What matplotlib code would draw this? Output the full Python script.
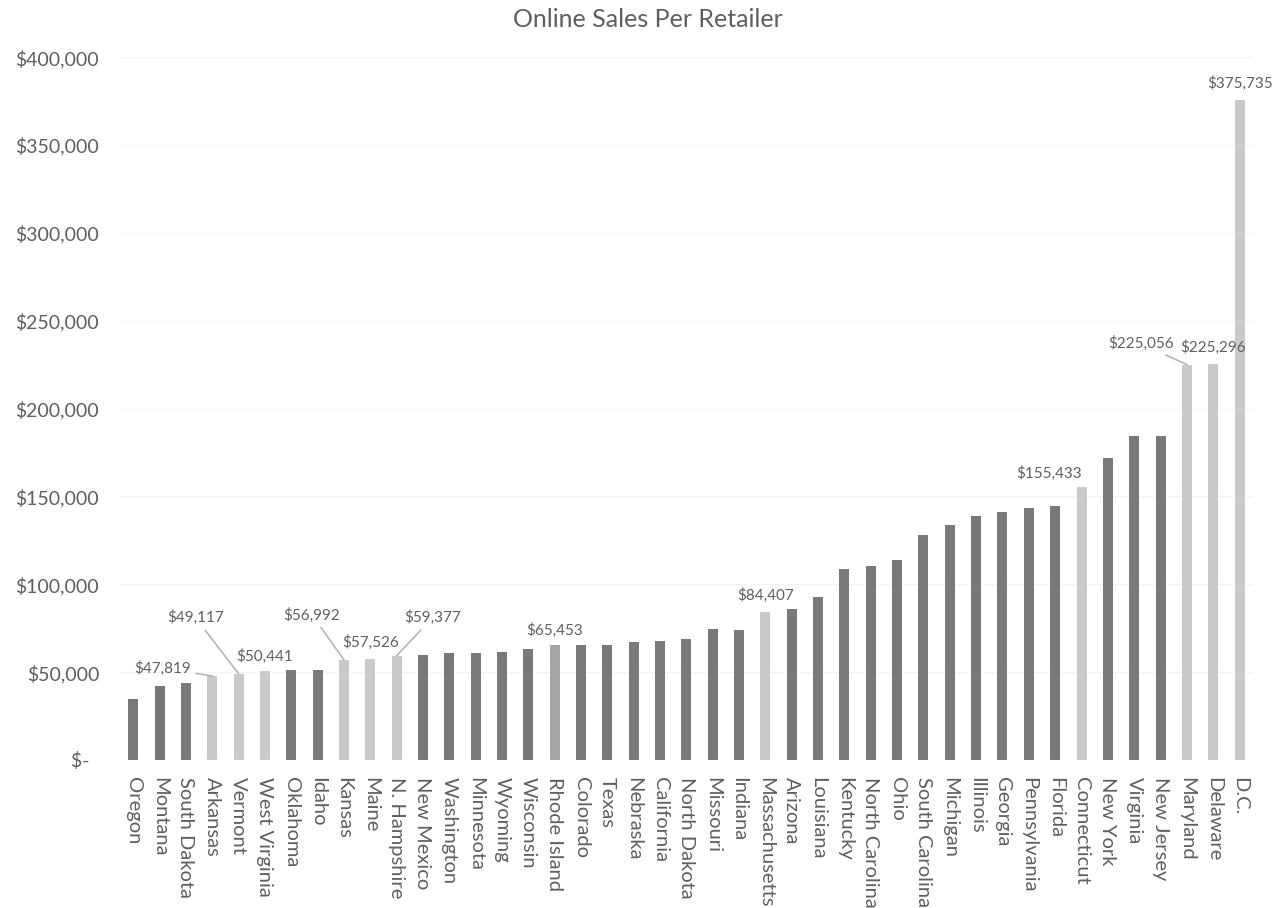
import numpy as np
import matplotlib
matplotlib.use("Agg")
import matplotlib.pyplot as plt
from matplotlib.ticker import FuncFormatter

# ---------------------------------------------------------
# Data: online sales per retailer, by state (sorted ascending)
# ---------------------------------------------------------
states = ["Oregon", "Montana", "South Dakota", "Arkansas", "Vermont",
          "West Virginia", "Oklahoma", "Idaho", "Kansas", "Maine",
          "N. Hampshire", "New Mexico", "Washington", "Minnesota", "Wyoming",
          "Wisconsin", "Rhode Island", "Colorado", "Texas", "Nebraska",
          "California", "North Dakota", "Missouri", "Indiana", "Massachusetts",
          "Arizona", "Louisiana", "Kentucky", "North Carolina", "Ohio",
          "South Carolina", "Michigan", "Illinois", "Georgia", "Pennsylvania",
          "Florida", "Connecticut", "New York", "Virginia", "New Jersey",
          "Maryland", "Delaware", "D.C."]

sales = [34900, 41900, 43600, 47819, 49117,
         50441, 51000, 51100, 56992, 57526,
         59377, 59900, 61000, 61000, 61600,
         63400, 65453, 65700, 65700, 66900,
         68000, 68600, 74400, 73800, 84407,
         86000, 93000, 108700, 110500, 114000,
         128000, 133700, 139000, 141300, 143600,
         144800, 155433, 172000, 184300, 184300,
         225056, 225296, 375735]

# bar shade group: 0 = dark, 1 = light (highlighted), 2 = mid
shade = [0, 0, 0, 1, 1,
         1, 0, 0, 1, 1,
         1, 0, 0, 0, 0,
         0, 2, 0, 0, 0,
         0, 0, 0, 0, 1,
         0, 0, 0, 0, 0,
         0, 0, 0, 0, 0,
         0, 1, 0, 0, 0,
         1, 1, 1]

# states that carry a value label, and where the label sits (pixels from bar top)
labeled = ["Arkansas", "Vermont", "West Virginia", "Kansas", "Maine",
           "N. Hampshire", "Rhode Island", "Massachusetts", "Connecticut",
           "Maryland", "Delaware", "D.C."]
label_dx = [-50, -43, 0, -32, 0, 36, 0, 0, -32, -46, 0, 0]
label_dy = [8, 56, 15, 45, 17, 38, 15, 16, 14, 21, 17, 17]
leader = [True, True, False, True, False, True, False, False, False, True, False, False]

# ---------------------------------------------------------
# Figure
# ---------------------------------------------------------
plt.rcParams['font.family'] = ['Lato', 'DejaVu Sans']
txt = '#5f5f5f'
palette = {0: '#797979', 1: '#cacaca', 2: '#a6a6a6'}

fig = plt.figure(figsize=(12.77, 9.08), dpi=100)
ax = fig.add_axes([0.094, 0.163, 0.887, 0.774])

x = np.arange(len(states))
ax.bar(x, sales, width=0.38, color=[palette[s] for s in shade], zorder=3)

ax.set_xlim(-0.5, len(states) - 0.5)
ax.set_ylim(0, 400000)
ax.set_yticks(np.arange(0, 400001, 50000))

def dollars(v, pos):
    return "$-  " if v == 0 else f"${v:,.0f}"

ax.yaxis.set_major_formatter(FuncFormatter(dollars))
ax.set_xticks(x)
ax.set_xticklabels(states, rotation=-90, ha='center', va='top')
ax.tick_params(axis='both', length=0, colors=txt)
ax.tick_params(axis='x', pad=12, labelsize=14.5)
ax.tick_params(axis='y', pad=15, labelsize=14)
ax.grid(axis='y', color='#f4f4f4', linewidth=1, zorder=0)
for side in ax.spines.values():
    side.set_visible(False)

# value labels
for name, dx, dy, ld in zip(labeled, label_dx, label_dy, leader):
    i = states.index(name)
    ax.annotate(f"${sales[i]:,}", xy=(i, sales[i]), xytext=(dx, dy),
                textcoords='offset pixels', ha='center', va='center',
                fontsize=11, color=txt, zorder=4,
                arrowprops=dict(arrowstyle='-', color='#b0b0b0', lw=1.1,
                                shrinkA=2, shrinkB=0) if ld else None)

fig.text(0.507, 0.978, "Online Sales Per Retailer", ha='center', va='center',
         fontsize=18, color=txt)

plt.savefig('out.png', dpi=100, facecolor='white')
